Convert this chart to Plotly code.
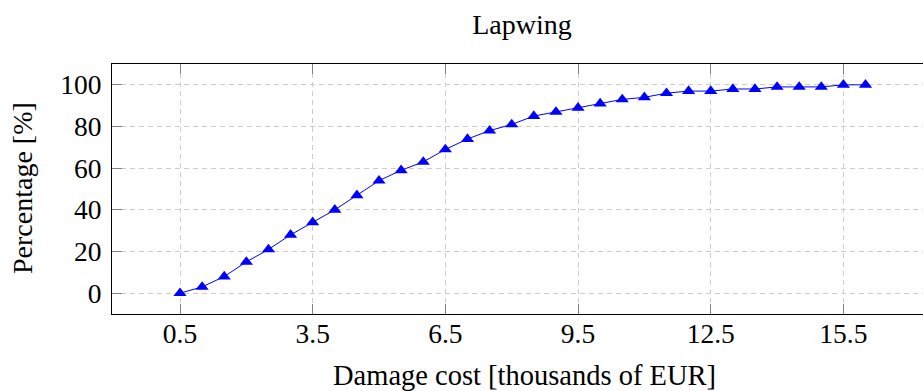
import plotly.graph_objects as go

# Cumulative share of lapwing damage claims by cost
damage_cost = [0.5, 1.0, 1.5, 2.0, 2.5, 3.0, 3.5, 4.0, 4.5, 5.0, 5.5, 6.0, 6.5, 7.0, 7.5, 8.0,
               8.5, 9.0, 9.5, 10.0, 10.5, 11.0, 11.5, 12.0, 12.5, 13.0, 13.5, 14.0, 14.5,
               15.0, 15.5, 16.0]
percentage = [0, 3, 8, 15, 21, 28, 34, 40, 47, 54, 59, 63, 69, 74, 78, 81,
              85, 87, 89, 91, 93, 94, 96, 97, 97, 98, 98, 99, 99,
              99, 100, 100]
x_ticks = [0.5, 3.5, 6.5, 9.5, 12.5, 15.5]
x_tick_text = ["0.5", "3.5", "6.5", "9.5", "12.5", "15.5"]
y_ticks = [0, 20, 40, 60, 80, 100]

FONT = "Liberation Serif"
GRID = "rgb(205,205,205)"
TICK = "rgb(130,130,130)"

fig = go.Figure()
fig.add_trace(go.Scatter(
    x=damage_cost, y=percentage, mode="lines+markers",
    line=dict(color="#0000ff", width=1),
    marker=dict(symbol="triangle-up", size=11.5, color="#0000ff"),
    showlegend=False,
))

fig.update_layout(
    width=923, height=391,
    margin=dict(l=112, r=0, t=64, b=77),
    paper_bgcolor="white", plot_bgcolor="white",
    font=dict(family=FONT, size=27, color="black"),
    title=dict(text="Lapwing", font=dict(family=FONT, size=28, color="black"),
               xref="container", x=522 / 923, xanchor="center",
               yref="container", y=1 - 24 / 391, yanchor="middle"),
    xaxis=dict(
        range=[-1.038, 17.30], tickvals=x_ticks, ticktext=x_tick_text,
        showgrid=True, gridcolor=GRID, griddash="5px,4px", gridwidth=1,
        zeroline=False, showline=True, linecolor="black", linewidth=1, mirror="ticks",
        ticks="inside", ticklen=10, tickcolor=TICK, tickwidth=1,
        tickfont=dict(family=FONT, size=27.5), ticklabelstandoff=-5,
    ),
    yaxis=dict(
        range=[-10, 110], tickvals=y_ticks,
        showgrid=True, gridcolor=GRID, griddash="5px,4px", gridwidth=1,
        zeroline=False, showline=True, linecolor="black", linewidth=1, mirror=False,
        ticks="inside", ticklen=10, tickcolor=TICK, tickwidth=1,
        tickfont=dict(family=FONT, size=27.5), ticklabelstandoff=4,
    ),
    annotations=[
        dict(text="Damage cost [thousands of EUR]", xref="paper", yref="paper",
             x=(524 - 112) / 811, y=(314 - 375) / 250, xanchor="center", yanchor="middle",
             showarrow=False, font=dict(family=FONT, size=28.5)),
        dict(text="Percentage [%]", xref="paper", yref="paper",
             x=(22 - 112) / 811, y=(314 - 188) / 250, xanchor="center", yanchor="middle",
             textangle=-90, showarrow=False, font=dict(family=FONT, size=28)),
    ],
)

fig.write_html("out.html")
